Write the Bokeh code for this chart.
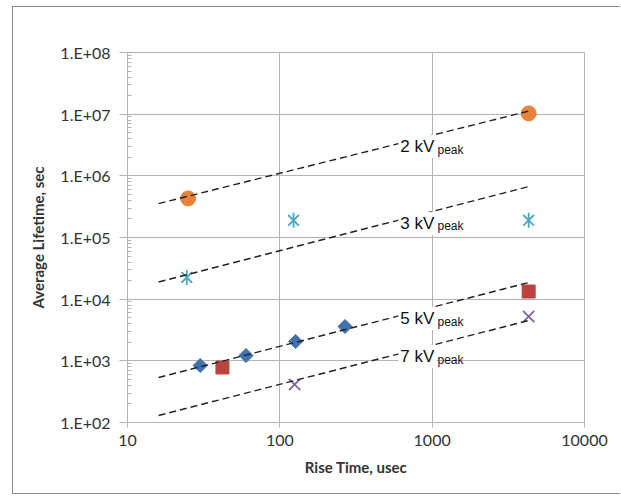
import math
from bokeh.plotting import figure
from bokeh.models import Label, Range1d
from bokeh.embed import file_html
from bokeh.resources import INLINE

# ---------------- data ----------------
x_ticks = [10, 100, 1000, 10000]
x_tick_labels = ["10", "100", "1000", "10000"]
y_ticks = [100, 1000, 10000, 100000, 1000000, 10000000, 100000000]
y_tick_labels = ["1.E+02", "1.E+03", "1.E+04", "1.E+05", "1.E+06", "1.E+07", "1.E+08"]

kv2_x = [25, 4300]
kv2_y = [4.3e5, 1.03e7]
kv3_x = [24.5, 123, 4300]
kv3_y = [2.25e4, 1.9e5, 1.9e5]
kv5_x = [42, 4300]
kv5_y = [780, 1.33e4]
kv7_x = [125, 4300]
kv7_y = [413, 5230]
dia_x = [30, 60, 127, 268]
dia_y = [840, 1220, 2060, 3600]

fit_x = [16, 4300]
fit2_y = [3.55e5, 1.12e7]
fit3_y = [1.9e4, 6.7e5]
fit5_y = [537, 1.86e4]
fit7_y = [130, 4510]

label_texts = ["2 kV", "3 kV", "5 kV", "7 kV"]
label_sub = "peak"
label_x = 600
sub_x = 1084
label_y = [2.99e6, 1.69e5, 4860, 1175]
sub_y = [2.67e6, 1.51e5, 4340, 1050]

# ---------------- figure ----------------
GRID = "#b4b4b4"
TXT = "#333333"
FONT = "Lato"

p = figure(width=608, height=488, x_axis_type="log", y_axis_type="log",
           x_range=Range1d(10, 10000), y_range=Range1d(100, 1e8),
           output_backend="svg", toolbar_location=None,
           min_border_left=114, min_border_right=37,
           min_border_top=45, min_border_bottom=73)
p.styles = {"border-left": "1px solid #8c8c8c", "border-top": "1px solid #8c8c8c",
            "border-bottom": "1px solid #8c8c8c",
            "margin-left": "12px", "margin-top": "6px"}
p.background_fill_color = "white"
p.border_fill_color = "white"
p.outline_line_color = GRID
p.outline_line_width = 1

p.xgrid.grid_line_color = GRID
p.ygrid.grid_line_color = GRID

for ax in (p.xaxis[0], p.yaxis[0]):
    ax.axis_line_color = GRID
    ax.major_tick_line_color = GRID
    ax.minor_tick_line_color = GRID
    ax.major_label_text_font = FONT
    ax.major_label_text_font_size = "16px"
    ax.major_label_text_color = TXT
    ax.axis_label_text_font = FONT
    ax.axis_label_text_font_size = "15px"
    ax.axis_label_text_font_style = "bold"
    ax.axis_label_text_color = TXT

p.xaxis.axis_label = "Rise Time, usec"
p.yaxis.axis_label = "Average Lifetime, sec"
p.xaxis.major_label_overrides = dict(zip(x_ticks, x_tick_labels))
p.yaxis.major_label_overrides = dict(zip(y_ticks, y_tick_labels))
p.yaxis.ticker.num_minor_ticks = 10
p.xaxis.minor_tick_line_color = None
p.xaxis.major_tick_in = 0
p.xaxis.major_tick_out = 5
p.xaxis.major_label_standoff = 7
p.xaxis.axis_label_standoff = 9
p.yaxis.major_tick_in = 0
p.yaxis.major_tick_out = 8
p.yaxis.minor_tick_in = 4
p.yaxis.minor_tick_out = 0
p.yaxis.major_label_standoff = 9
p.yaxis.axis_label_standoff = 10

# markers
p.scatter(dia_x, dia_y, marker="square", size=10, angle=math.pi / 4,
          fill_color="#4172AE", line_color="#4172AE")
p.scatter(kv2_x, kv2_y, marker="circle", size=15, fill_color="#E8843A", line_color="#E8843A")
p.scatter(kv3_x, kv3_y, marker="x", size=15, line_color="#4BA7C0", line_width=1.8)
p.scatter(kv3_x, kv3_y, marker="dash", size=15, angle=math.pi / 2,
          line_color="#4BA7C0", line_width=1.8)
p.scatter(kv5_x, kv5_y, marker="square", size=13, fill_color="#B9443F", line_color="#B9443F")
p.scatter(kv7_x, kv7_y, marker="x", size=16, line_color="#8064A2", line_width=1.8)

# trend lines
for fy in (fit2_y, fit3_y, fit5_y, fit7_y):
    p.line(fit_x, fy, line_color="#222222", line_width=1.4, line_dash="7 4")

# labels
for t, ly, sy in zip(label_texts, label_y, sub_y):
    p.add_layout(Label(x=label_x, y=ly, text=t, text_font="Liberation Sans",
                       text_font_size="17px", text_color="#111111",
                       text_baseline="alphabetic", text_align="left",
                       background_fill_color="white", padding=2))
    p.add_layout(Label(x=sub_x, y=sy, text=label_sub, text_font="Liberation Sans",
                       text_font_size="12px", text_color="#111111",
                       text_baseline="alphabetic", text_align="left"))

open("out.html", "w").write(file_html(p, INLINE))
